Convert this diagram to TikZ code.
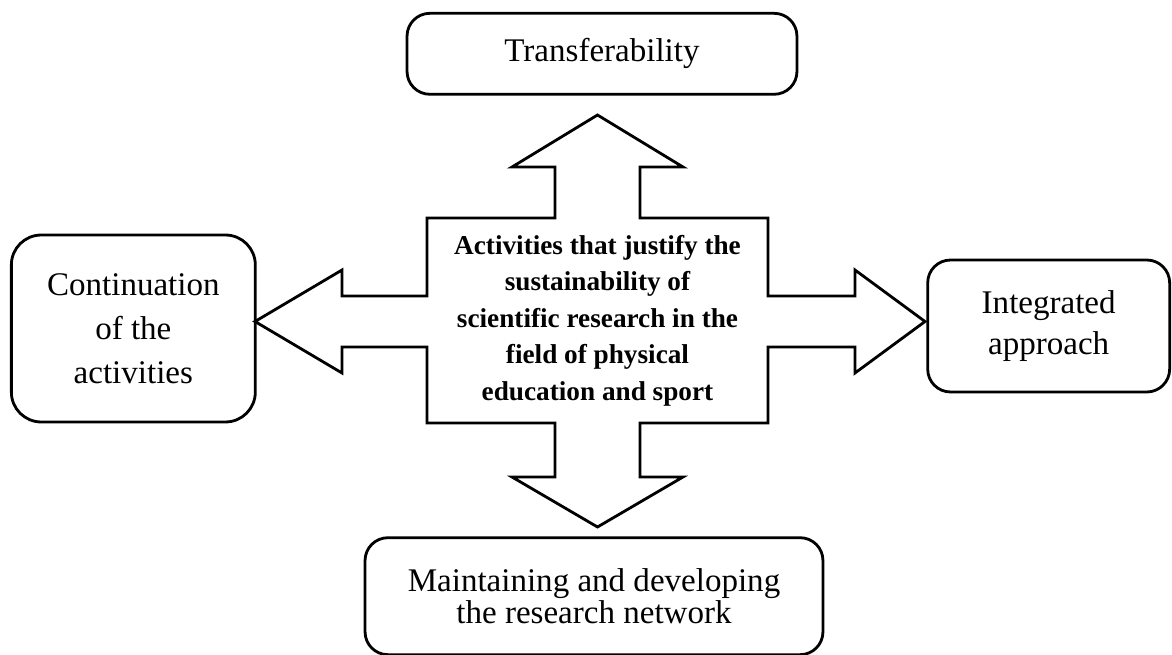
\documentclass[tikz,border=0pt]{standalone}
\usepackage{fontspec}
\setmainfont{Liberation Serif}
\usepackage{tikz}
\usetikzlibrary{positioning}

\begin{document}
\begin{tikzpicture}[x=0.02cm, y=-0.02cm, auto]
    \tikzstyle{box} = [rectangle, draw, line width=1.6pt, rounded corners=13pt, align=center, inner sep=0pt, font=\fontsize{18.8}{23}\selectfont]
    \tikzstyle{core} = [rectangle, align=center, inner sep=0pt, minimum width=6.82cm, minimum height=4.1cm, font=\bfseries\fontsize{15.5}{20.8}\selectfont]
    \tikzstyle{cross} = [draw, line width=1.6pt, line join=miter, fill=white]

    \useasboundingbox (0,0) rectangle (1172,655);

    % four-way block arrow behind the centre text
    \draw [cross] (427,218) -- (555,218) -- (555,167) -- (512,167) -- (597.5,115) -- (683,167) -- (640,167) -- (640,218)
        -- (768,218) -- (768,296) -- (855,296) -- (855,270) -- (925,321.5) -- (855,373) -- (855,347) -- (768,347)
        -- (768,423) -- (640,423) -- (640,477) -- (683,477) -- (597.5,527) -- (512,477) -- (555,477) -- (555,423)
        -- (427,423) -- (427,347) -- (342,347) -- (342,373) -- (255,321.5) -- (342,270) -- (342,296) -- (427,296) -- cycle;

    \node [core] (core) at (597.5,320.5) {Activities that justify the\\ sustainability of\\ scientific research in the\\ field of physical\\ education and sport};

    \node [box, minimum width=7.8cm, minimum height=1.62cm, above=2.44cm of core, xshift=0.09cm] (transfer) {Transferability};
    \node [box, minimum width=4.88cm, minimum height=3.74cm, rounded corners=17pt, left=3.4cm of core, yshift=-0.16cm,
           font=\fontsize{18.8}{25}\selectfont] (continue) {Continuation\\ of the\\ activities};
    \node [box, minimum width=4.84cm, minimum height=2.64cm, right=3.16cm of core, yshift=-0.11cm] (integrated) {Integrated\\ approach};
    \node [box, minimum width=9.16cm, minimum height=2.34cm, below=2.26cm of core, xshift=-0.07cm,
           font=\fontsize{18.8}{18.5}\selectfont] (network) {Maintaining and developing\\ the research network};
\end{tikzpicture}
\end{document}
